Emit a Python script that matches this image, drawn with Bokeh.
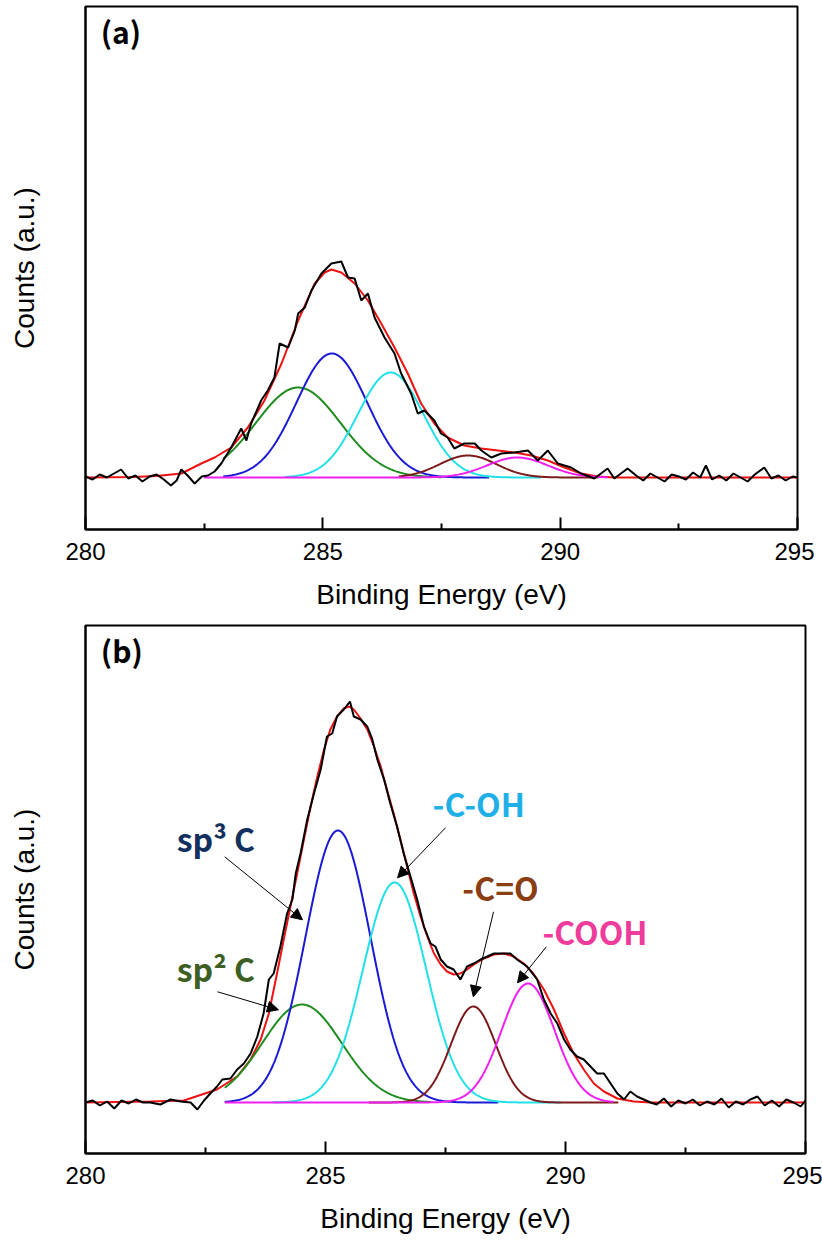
import numpy as np
from bokeh.plotting import figure
from bokeh.layouts import column
from bokeh.models import FixedTicker, Label, Arrow, NormalHead, Range1d
from bokeh.embed import file_html
from bokeh.resources import INLINE

# ---------------- panel (a): measured C 1s spectrum ----------------
a_energy = [280.00, 280.15, 280.30, 280.45, 280.60, 280.75, 280.90, 281.05, 281.20, 281.35,
            281.50, 281.65, 281.80, 281.92, 282.02, 282.15, 282.30, 282.45, 282.58, 282.72,
            282.86, 283.07, 283.28, 283.39, 283.49, 283.70, 283.84, 283.98, 284.09, 284.27,
            284.41, 284.48, 284.62, 284.76, 284.97, 285.18, 285.39, 285.53, 285.67, 285.81,
            285.95, 286.09, 286.30, 286.51, 286.65, 286.86, 287.00, 287.14, 287.35, 287.49,
            287.63, 287.77, 287.98, 288.20, 288.34, 288.55, 288.76, 289.04, 289.32, 289.53,
            289.74, 289.95, 290.23, 290.44, 290.72, 291.00, 291.14, 291.42, 291.60, 291.75,
            291.90, 292.05, 292.20, 292.35, 292.50, 292.65, 292.80, 292.95, 293.07, 293.20,
            293.35, 293.50, 293.65, 293.80, 293.95, 294.10, 294.30, 294.45, 294.60, 294.75,
            294.90, 295.00]
a_counts = [1, -2, 3, 0, 4, 8, -1, 2, -4, 1,
            3, -2, -8, -3, 8, 2, -6, 1, 2, 6,
            14, 30, 49, 37, 54, 77, 87, 100, 134, 130,
            147, 164, 170, 187, 204, 214, 216, 200, 199, 177,
            184, 160, 140, 124, 104, 84, 64, 67, 57, 44,
            40, 29, 34, 34, 27, 20, 24, 25, 27, 17,
            27, 14, 10, 4, -1, 9, -1, 9, 2, -3,
            4, 0, -4, 3, 1, -2, 5, 0, 12, -2,
            2, -3, 4, 0, -4, 3, 10, -1, 2, -3,
            1, 0]

# fitted envelope (a)
a_fit_energy = [280.0, 281.0, 281.5, 282.02, 282.44, 282.72, 283.07, 283.42, 283.77, 284.13,
                284.48, 284.83, 285.04, 285.18, 285.39, 285.67, 285.95, 286.23, 286.51, 286.79,
                287.07, 287.35, 287.63, 287.98, 288.34, 288.69, 289.04, 289.39, 289.74, 290.09,
                290.44, 290.79, 291.14, 292.0, 295.0]
a_fit_counts = [0, 0.5, 1.5, 4, 14, 20, 30, 50, 77, 114,
                157, 194, 205, 208, 205, 194, 177, 154, 130, 104,
                74, 54, 40, 32, 29, 27, 25, 22, 17, 10,
                4, 1, 0, 0, 0]

# fitted components (a): sp2 C, sp3 C, C-OH, C=O, COOH
a_peak_center = [284.48, 285.19, 286.43, 288.06, 289.10]
a_peak_height = [90, 124, 105, 22, 20]
a_peak_fwhm = [2.10, 1.75, 1.62, 1.40, 1.50]
a_peak_start = [282.9, 282.9, 284.2, 286.6, 282.5]
a_peak_end = [287.5, 288.5, 289.6, 290.8, 291.0]

# ---------------- panel (b) ----------------
b_energy = [280.00, 280.15, 280.30, 280.45, 280.60, 280.75, 280.90, 281.05, 281.20, 281.35,
            281.56, 281.77, 281.98, 282.19, 282.33, 282.47, 282.60, 282.74, 282.85, 283.02,
            283.16, 283.30, 283.44, 283.58, 283.71, 283.82, 283.92, 284.06, 284.20, 284.31,
            284.38, 284.48, 284.62, 284.76, 284.90, 285.03, 285.14, 285.24, 285.38, 285.51,
            285.59, 285.73, 285.87, 285.97, 286.08, 286.22, 286.35, 286.49, 286.63, 286.77,
            286.91, 287.05, 287.19, 287.29, 287.40, 287.53, 287.67, 287.81, 287.95, 288.09,
            288.23, 288.37, 288.51, 288.72, 288.85, 288.99, 289.20, 289.41, 289.55, 289.69,
            289.83, 289.97, 290.10, 290.24, 290.38, 290.52, 290.66, 290.80, 290.94, 291.08,
            291.22, 291.35, 291.49, 291.63, 291.77, 291.90, 292.05, 292.20, 292.35, 292.50,
            292.65, 292.80, 292.95, 293.10, 293.25, 293.40, 293.55, 293.70, 293.85, 294.00,
            294.15, 294.30, 294.45, 294.60, 294.75, 294.90, 295.00]
b_counts = [0, 2, -3, 1, -6, 2, -1, 3, 0, 0,
            -2, 3, 1, 0, -7, 2, 9, 16, 23, 24,
            33, 39, 49, 66, 89, 123, 129, 156, 189, 203,
            229, 249, 283, 309, 333, 366, 369, 386, 393, 401,
            386, 383, 376, 364, 343, 323, 299, 276, 249, 226,
            203, 176, 159, 156, 143, 136, 133, 123, 136, 139,
            143, 146, 149, 149, 149, 143, 136, 123, 103, 89,
            79, 63, 53, 46, 43, 36, 29, 29, 19, 9,
            3, 11, 6, 3, 0, -2, 4, -4, 2, -1,
            3, -3, 1, -2, 4, -5, 1, -2, 3, 6,
            -3, 2, -4, 3, 0, -4, 2]

b_fit_energy = [280.0, 281.35, 282.05, 282.74, 283.16, 283.44, 283.65, 283.82, 283.99, 284.13,
                284.27, 284.41, 284.55, 284.69, 284.83, 284.97, 285.10, 285.24, 285.38, 285.49,
                285.59, 285.73, 285.87, 286.01, 286.15, 286.28, 286.42, 286.56, 286.70, 286.84,
                286.98, 287.12, 287.26, 287.40, 287.53, 287.67, 287.81, 287.95, 288.09, 288.30,
                288.51, 288.72, 288.92, 289.13, 289.33, 289.55, 289.76, 289.97, 290.17, 290.38,
                290.59, 290.80, 291.08, 291.42, 291.77, 295.0]
b_fit_counts = [0, 1, 2, 13, 26, 43, 63, 89, 129, 163,
                196, 229, 263, 296, 326, 353, 373, 386, 394, 396,
                393, 384, 373, 356, 336, 313, 289, 263, 236, 209,
                186, 166, 149, 138, 131, 128, 129, 133, 138, 144,
                148, 149, 146, 139, 129, 113, 93, 69, 49, 33,
                19, 11, 4, 1, 0, 0]

b_peak_center = [284.51, 285.26, 286.44, 288.08, 289.22]
b_peak_height = [98, 272, 220, 96, 119]
b_peak_fwhm = [1.95, 1.60, 1.55, 1.10, 1.30]
b_peak_start = [282.9, 282.9, 283.9, 285.9, 282.9]
b_peak_end = [287.2, 288.6, 289.9, 291.1, 291.0]

peak_colors = ["#1e8c1e", "#1a1ad6", "#22e0e8", "#7c1a1a", "#f01ef0"]

# peak labels in panel (b): text, x, y, colour, arrow tail (x, y), arrow head (x, y)
label_text = ["sp³ C", "sp² C", "-C-OH", "-C=O", "-COOH"]
label_x = [281.9, 281.9, 287.23, 287.85, 289.52]
label_y = [265, 135, 300, 216, 172]
label_color = ["#14305e", "#3d5f24", "#1fb0e8", "#8a3e14", "#ee3c9c"]
arrow_x0 = [282.90, 282.75, 287.50, 288.50, 289.60]
arrow_y0 = [245.7, 110.7, 274.7, 190.7, 155.7]
arrow_x1 = [284.52, 284.02, 286.50, 288.08, 289.00]
arrow_y1 = [182.7, 92.7, 224.7, 105.7, 119.7]

TICK_FONT = "Liberation Sans"
LABEL_FONT = "Noto Sans CJK KR"


def gauss(center, height, fwhm, x):
    return height * np.exp(-4.0 * np.log(2.0) * (x - center) ** 2 / fwhm ** 2)


def make_panel(letter, energy, counts, fit_e, fit_c, centers, heights, fwhms, starts, ends,
               ylim, width, height, borders):
    left, right, top, bottom = borders
    p = figure(width=width, height=height, x_range=Range1d(280, 295), y_range=Range1d(*ylim),
               output_backend="svg", toolbar_location=None,
               min_border_left=left, min_border_right=right,
               min_border_top=top, min_border_bottom=bottom,
               background_fill_color="white", border_fill_color="white")
    p.xgrid.visible = False
    p.ygrid.visible = False
    p.outline_line_color = "black"
    p.outline_line_width = 2
    p.outline_line_alpha = 1

    xa = p.xaxis[0]
    xa.ticker = FixedTicker(ticks=[280, 285, 290, 295], minor_ticks=[282.5, 287.5, 292.5])
    xa.major_tick_in = 12
    xa.major_tick_out = 0
    xa.minor_tick_in = 6
    xa.minor_tick_out = 0
    xa.axis_line_width = 2
    xa.major_tick_line_width = 2
    xa.minor_tick_line_width = 2
    xa.major_label_text_font = TICK_FONT
    xa.major_label_text_font_size = "24px"
    xa.major_label_text_color = "black"
    xa.major_label_standoff = 13
    xa.axis_label = "Binding Energy (eV)"
    xa.axis_label_text_font = TICK_FONT
    xa.axis_label_text_font_style = "normal"
    xa.axis_label_text_font_size = "28px"
    xa.axis_label_text_color = "black"
    xa.axis_label_standoff = 16

    ya = p.yaxis[0]
    ya.ticker = FixedTicker(ticks=[])
    ya.major_tick_in = 0
    ya.major_tick_out = 0
    ya.minor_tick_in = 0
    ya.minor_tick_out = 0
    ya.axis_line_width = 2
    ya.axis_label = "Counts (a.u.)"
    ya.axis_label_text_font = TICK_FONT
    ya.axis_label_text_font_style = "normal"
    ya.axis_label_text_font_size = "28px"
    ya.axis_label_text_color = "black"
    ya.axis_label_standoff = 46

    # fit envelope
    p.line(fit_e, fit_c, line_color="#ee1111", line_width=2)
    # fitted components
    for c, h, w, s, e, col in zip(centers, heights, fwhms, starts, ends, peak_colors):
        xs = np.linspace(s, e, 300)
        p.line(xs, gauss(c, h, w, xs), line_color=col, line_width=2)
    # measured spectrum
    p.line(energy, counts, line_color="black", line_width=2)

    p.add_layout(Label(x=280.32, y=ylim[1] - 24, text=letter, text_font=LABEL_FONT,
                       text_font_style="bold", text_font_size="30px", text_color="black",
                       text_baseline="middle", text_align="left"))
    return p


p1 = make_panel("(a)", a_energy, a_counts, a_fit_energy, a_fit_counts,
                a_peak_center, a_peak_height, a_peak_fwhm, a_peak_start, a_peak_end,
                (-52, 471), 814, 619, (85, 17, 6, 90))
p2 = make_panel("(b)", b_energy, b_counts, b_fit_energy, b_fit_counts,
                b_peak_center, b_peak_height, b_peak_fwhm, b_peak_start, b_peak_end,
                (-51, 477), 822, 624, (85, 17, 6, 90))

for t, x, y, col, x0, y0, x1, y1 in zip(label_text, label_x, label_y, label_color,
                                        arrow_x0, arrow_y0, arrow_x1, arrow_y1):
    p2.add_layout(Label(x=x, y=y, text=t, text_font=LABEL_FONT, text_font_style="bold",
                        text_font_size="32px", text_color=col,
                        text_baseline="middle", text_align="left"))
    p2.add_layout(Arrow(x_start=x0, y_start=y0, x_end=x1, y_end=y1, line_width=1,
                        line_color="black",
                        end=NormalHead(size=11, fill_color="black", line_color="black")))

layout = column(p1, p2)
open("out.html", "w").write(file_html(layout, INLINE))
